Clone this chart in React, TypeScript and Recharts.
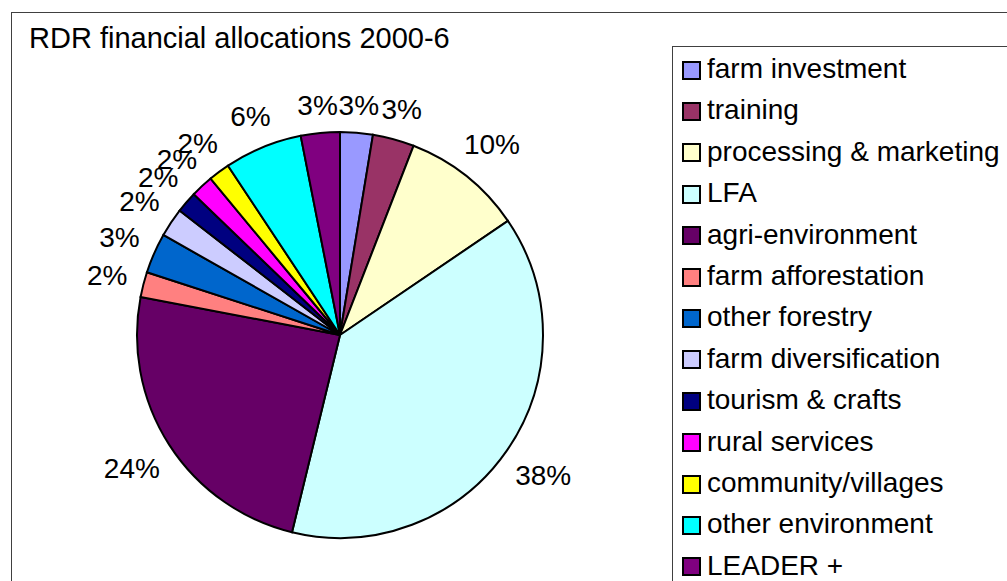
import { Cell, Legend, Pie, PieChart } from 'recharts';

const categories = [
  'farm investment',
  'training',
  'processing & marketing',
  'LFA',
  'agri-environment',
  'farm afforestation',
  'other forestry',
  'farm diversification',
  'tourism & crafts',
  'rural services',
  'community/villages',
  'other environment',
  'LEADER +',
];

// share of the total
const allocations = [2.6, 3.3, 9.6, 38.3, 24.2, 2.0, 3.2, 2.3, 1.7, 1.8, 1.7, 6.2, 3.1];

const colors = [
  '#9999FF',
  '#993366',
  '#FFFFCC',
  '#CCFFFF',
  '#660066',
  '#FF8080',
  '#0066CC',
  '#CCCCFF',
  '#000080',
  '#FF00FF',
  '#FFFF00',
  '#00FFFF',
  '#800080',
];

const FONT = '"Liberation Sans", Arial, sans-serif';
const total = allocations.reduce((acc, v) => acc + v, 0);
const data = categories.map((name, i) => ({ name, value: allocations[i] }));

const renderLabel = (props: any) => {
  const { cx, cy, midAngle, outerRadius, value } = props;
  const text = `${Math.round((value / total) * 100)}%`;
  const rad = (-midAngle * Math.PI) / 180;
  const dx = Math.cos(rad);
  const dy = Math.sin(rad);
  const halfWidth = ((text.length - 1) * 0.556 + 0.889) * 14;
  const r = outerRadius + 15 + halfWidth * Math.abs(dx) + 11 * Math.abs(dy);

  return (
    <text
      x={cx + r * dx}
      y={cy + r * dy}
      textAnchor="middle"
      dominantBaseline="central"
      fontSize={28}
      fontFamily={FONT}
      fill="#000"
    >
      {text}
    </text>
  );
};

const renderLegend = () => (
  <div style={{ paddingTop: 1, paddingLeft: 9 }}>
    {categories.map((name, i) => (
      <div
        key={name}
        style={{ display: 'flex', alignItems: 'center', height: 41.4, whiteSpace: 'nowrap' }}
      >
        <div
          style={{
            width: 19,
            height: 19,
            boxSizing: 'border-box',
            border: '2px solid #000',
            background: colors[i],
            marginRight: 6,
            marginTop: 3,
          }}
        />
        <span style={{ fontSize: 28, fontFamily: FONT, color: '#000', lineHeight: '41.4px' }}>
          {name}
        </span>
      </div>
    ))}
  </div>
);

export default function App() {
  return (
    <div
      style={{
        position: 'absolute',
        left: 0,
        top: 0,
        width: 1007,
        height: 581,
        overflow: 'hidden',
        background: '#fff',
      }}
    >
      <div
        style={{
          position: 'absolute',
          left: 11,
          top: 12,
          width: 1200,
          height: 800,
          border: '1px solid #404040',
        }}
      />
      <div
        style={{
          position: 'absolute',
          left: 29,
          top: 24,
          fontSize: 29,
          lineHeight: 1,
          fontFamily: FONT,
          color: '#000',
          whiteSpace: 'nowrap',
        }}
      >
        RDR financial allocations 2000-6
      </div>
      <div style={{ position: 'absolute', left: 0, top: 0 }}>
        <PieChart width={1007} height={581} margin={{ top: 0, right: 0, bottom: 0, left: 0 }}>
          <Pie
            data={data}
            dataKey="value"
            nameKey="name"
            cx={340}
            cy={335}
            outerRadius={203}
            startAngle={90}
            endAngle={-270}
            stroke="#000"
            strokeWidth={2}
            label={renderLabel}
            labelLine={false}
            isAnimationActive={false}
          >
            {data.map((entry, i) => (
              <Cell key={entry.name} fill={colors[i]} />
            ))}
          </Pie>
          <Legend
            content={renderLegend}
            layout="vertical"
            verticalAlign="top"
            align="right"
            wrapperStyle={{
              left: 672,
              top: 46,
              width: 420,
              height: 600,
              borderLeft: '1px solid #404040',
              borderTop: '1px solid #404040',
              background: '#fff',
            }}
          />
        </PieChart>
      </div>
    </div>
  );
}
